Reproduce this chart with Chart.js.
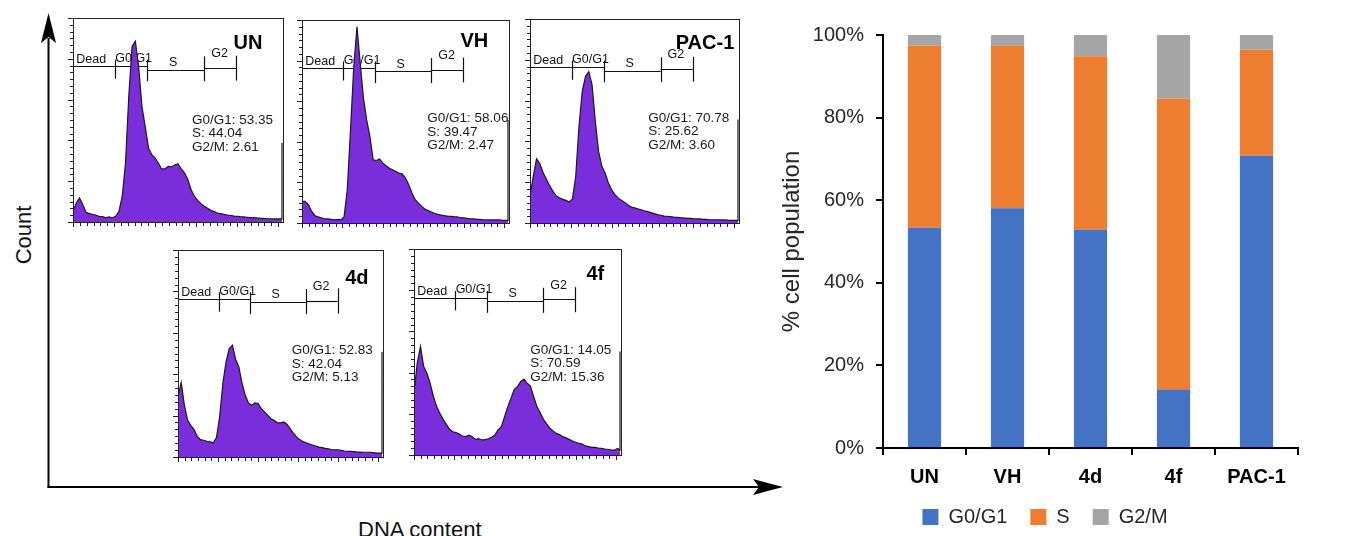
<!DOCTYPE html>
<html>
<head>
<meta charset="utf-8">
<title>Cell cycle distribution</title>
<script src="https://cdn.jsdelivr.net/npm/chart.js@4.4.1/dist/chart.umd.min.js"></script>
<style>
  html, body { margin: 0; padding: 0; background: #fff; }
  body { width: 1353px; height: 536px; position: relative; overflow: hidden; font-family: "Liberation Sans", Arial, sans-serif; }
  canvas { position: absolute; }
  .axis-label { position: absolute; color: #111; white-space: nowrap; }
  #countLabel { left: 23.5px; top: 235px; font-size: 22px; transform: translate(-50%, -50%) rotate(-90deg); }
  #dnaLabel { left: 358px; top: 519px; font-size: 22px; line-height: 22px; }
  #arrows { position: absolute; left: 0; top: 0; }
</style>
</head>
<body>
<svg id="arrows" width="800" height="536">
  <line x1="48.5" y1="488" x2="48.5" y2="38" stroke="#000" stroke-width="2"/>
  <polygon points="48.5,13 56,43 48.5,37 41,43" fill="#000"/>
  <line x1="47.5" y1="487" x2="762" y2="487" stroke="#000" stroke-width="2"/>
  <polygon points="783,487 753,479 759,487 753,495" fill="#000"/>
</svg>
<div id="countLabel" class="axis-label">Count</div>
<div id="dnaLabel" class="axis-label">DNA content</div>

<canvas id="hUN"></canvas>
<canvas id="hVH"></canvas>
<canvas id="hPAC"></canvas>
<canvas id="h4d"></canvas>
<canvas id="h4f"></canvas>
<canvas id="barChart" width="583" height="536" style="left:770px;top:0"></canvas>

<script>
/* ---------- colours ---------- */
const PURPLE = '#7a2ddb';
const BLUE = '#4472c4';
const ORANGE = '#ed7d31';
const GREY = '#a5a5a5';

Chart.defaults.font.family = "'Liberation Sans', Arial, sans-serif";

/* ---------- stacked bar data (% of cells) ---------- */
const groups = ['UN', 'VH', '4d', '4f', 'PAC-1'];
const phaseNames = ['G0/G1', 'S', 'G2/M'];
const g0g1 = [53.35, 58.06, 52.83, 14.05, 70.78];
const sPhase = [44.04, 39.47, 42.04, 70.59, 25.62];
const g2m = [2.61, 2.47, 5.13, 15.36, 3.60];

/* ---------- histogram data (channel vs count) ---------- */
const chan = [
  0, 16, 32, 48, 64, 80, 96, 112,
  128, 144, 160, 176, 192, 208, 224, 240,
  256, 272, 288, 304, 320, 336, 352, 368,
  384, 400, 416, 432, 448, 464, 480, 496,
  512, 528, 544, 560, 576, 592, 608, 624,
  640, 656, 672, 688, 704, 720, 736, 752,
  768, 784, 800, 816, 832, 848, 864, 880,
  896, 912, 928, 944, 960, 976, 992, 1008,
  1017, 1019
];
const countUN = [
  5.2, 9.3, 11.8, 8.5, 4.7, 4.1, 3.8, 3.3,
  2.8, 2.6, 2.0, 2.5, 2.1, 2.8, 5.2, 12.6,
  28.9, 61.6, 86.1, 88.6, 76.3, 56.7, 46.9, 36.3,
  33.0, 31.4, 28.9, 26.0, 26.0, 27.3, 27.0, 27.9,
  28.6, 26.0, 24.0, 20.8, 15.8, 12.6, 10.6, 9.0,
  7.7, 6.7, 5.7, 5.1, 4.4, 4.1, 3.8, 3.4,
  3.3, 2.9, 2.8, 2.6, 2.5, 2.3, 2.1, 2.1,
  2.0, 1.8, 1.8, 1.6, 1.6, 1.5, 1.6, 1.5,
  1.5, 38.7
];
const countVH = [
  10.7, 10.7, 9.0, 5.7, 3.6, 3.0, 2.5, 2.1,
  2.0, 1.8, 1.6, 1.8, 1.5, 3.0, 16.4, 45.9,
  77.0, 96.7, 78.7, 61.5, 50.8, 42.6, 31.1, 30.8,
  31.5, 29.5, 28.2, 27.0, 26.2, 25.4, 24.6, 24.1,
  22.1, 18.9, 14.8, 11.5, 9.8, 8.2, 6.9, 6.1,
  5.4, 4.8, 4.3, 3.9, 3.6, 3.4, 3.3, 3.1,
  3.0, 2.6, 2.5, 2.3, 2.1, 2.0, 1.8, 1.8,
  1.6, 1.6, 1.5, 1.5, 1.6, 1.5, 1.3, 1.3,
  1.3, 50.8
];
const countPAC = [
  13.1, 22.9, 31.5, 29.1, 24.8, 21.6, 18.3, 15.7,
  13.4, 12.4, 11.6, 11.1, 10.3, 11.8, 22.9, 47.4,
  64.5, 71.9, 74.2, 67.8, 49.8, 35.1, 27.8, 24.5,
  19.6, 16.3, 13.9, 12.3, 11.1, 10.1, 8.8, 7.8,
  7.4, 6.9, 6.5, 6.0, 5.6, 5.1, 4.6, 4.1,
  3.8, 3.4, 3.3, 3.1, 2.9, 2.8, 2.6, 2.5,
  2.3, 2.3, 2.1, 2.0, 2.0, 1.8, 1.8, 1.6,
  1.6, 1.6, 1.5, 1.5, 1.5, 1.3, 1.3, 1.3,
  1.3, 50.7
];
const count4d = [
  29.0, 36.0, 25.0, 17.7, 15.3, 13.2, 10.0, 8.4,
  8.1, 7.6, 7.3, 6.9, 9.4, 19.4, 35.5, 46.0,
  52.4, 54.0, 47.1, 43.5, 35.5, 29.8, 26.1, 25.0,
  26.1, 25.8, 23.4, 21.8, 20.2, 18.5, 17.7, 16.5,
  16.5, 16.9, 15.8, 13.7, 11.6, 9.7, 8.4, 7.4,
  6.8, 6.3, 5.8, 5.3, 4.8, 4.5, 4.2, 4.0,
  3.5, 3.5, 3.5, 3.2, 2.9, 2.7, 2.7, 2.6,
  2.4, 2.4, 2.3, 2.3, 2.3, 2.1, 1.9, 1.9,
  1.9, 50.8
];
const count4f = [
  30.0, 44.6, 52.7, 42.9, 39.7, 34.8, 28.4, 23.5,
  20.3, 17.3, 14.9, 12.5, 11.3, 10.9, 10.2, 9.2,
  8.9, 9.6, 8.9, 7.6, 7.9, 7.3, 7.5, 7.9,
  8.6, 9.7, 12.2, 13.8, 18.6, 23.5, 27.6, 31.9,
  33.2, 35.7, 36.8, 34.8, 33.5, 28.4, 23.5, 20.6,
  17.3, 15.1, 13.0, 11.7, 10.5, 9.9, 8.9, 8.3,
  7.6, 6.8, 6.2, 5.7, 5.3, 4.4, 4.1, 3.7,
  3.7, 3.4, 3.2, 2.9, 2.8, 2.4, 2.4, 3.2,
  2.4, 50.2
];

/* ---------- gate markers (channel units) ---------- */
const gateNames = ['Dead', 'G0/G1', 'S', 'G2'];
const gateEdges = [0, 204, 362, 640, 797];
const gateLevel = [76.3, 76.3, 74.7, 75.5];
const gateBarTop = [79.6, 79.6, 81.2, 81.5];
const gateBarBottom = [70.2, 69.0, 69.0, 69.3];
const gateLabelX = [16, 206, 488, 715];
const gateLabelY = [77.8, 78.4, 76.6, 80.7];
const gateLabelAlign = ['left', 'left', 'center', 'center'];

/* ---------- panel placement ---------- */
const PAD = 14;
const panels = [
  { id: 'hUN',  title: 'UN',    counts: countUN,  idx: 0, box: [73, 18, 210, 204],  statsAt: [580, 50.0], titleAt: [783, 87.7] },
  { id: 'hVH',  title: 'VH',    counts: countVH,  idx: 1, box: [302, 20, 207, 203], statsAt: [620, 51.6], titleAt: [784, 89.3] },
  { id: 'hPAC', title: 'PAC-1', counts: countPAC, idx: 4, box: [530, 19, 209, 204], statsAt: [579, 51.5], titleAt: [714, 88.2] },
  { id: 'h4d',  title: '4d',    counts: count4d,  idx: 2, box: [178, 250, 205, 207], statsAt: [568, 51.6], titleAt: [835, 86.3] },
  { id: 'h4f',  title: '4f',    counts: count4f,  idx: 3, box: [414, 249, 207, 206], statsAt: [575, 51.0], titleAt: [853, 87.5] }
];

function makeDecor(p) {
  const stats = [
    'G0/G1: ' + g0g1[p.idx].toFixed(2),
    'S: ' + sPhase[p.idx].toFixed(2),
    'G2/M: ' + g2m[p.idx].toFixed(2)
  ];
  return {
    id: 'flowDecor',
    beforeDatasetsDraw(chart) {
      const { ctx } = chart;
      const xs = chart.scales.x, ys = chart.scales.y;
      ctx.save();
      ctx.strokeStyle = '#111';
      ctx.fillStyle = '#111';
      ctx.lineWidth = 1.2;
      // gate lines
      for (let i = 0; i < gateNames.length; i++) {
        const x0 = xs.getPixelForValue(gateEdges[i]);
        const x1 = xs.getPixelForValue(gateEdges[i + 1]);
        const yy = Math.round(ys.getPixelForValue(gateLevel[i])) + 0.5;
        ctx.beginPath(); ctx.moveTo(x0, yy); ctx.lineTo(x1, yy); ctx.stroke();
      }
      for (let i = 1; i < gateEdges.length; i++) {
        const xx = Math.round(xs.getPixelForValue(gateEdges[i])) + 0.5;
        ctx.beginPath();
        ctx.moveTo(xx, ys.getPixelForValue(gateBarTop[i - 1]));
        ctx.lineTo(xx, ys.getPixelForValue(gateBarBottom[i - 1]));
        ctx.stroke();
      }
      ctx.font = "12.5px 'Liberation Sans', Arial, sans-serif";
      ctx.textBaseline = 'alphabetic';
      for (let i = 0; i < gateNames.length; i++) {
        ctx.textAlign = gateLabelAlign[i];
        ctx.fillText(gateNames[i], xs.getPixelForValue(gateLabelX[i]), ys.getPixelForValue(gateLabelY[i]));
      }
      ctx.restore();
    },
    afterDatasetsDraw(chart) {
      const { ctx } = chart;
      const xs = chart.scales.x, ys = chart.scales.y;
      ctx.save();
      ctx.fillStyle = '#1a1a1a';
      ctx.textAlign = 'left';
      ctx.textBaseline = 'middle';
      ctx.font = "13.5px 'Liberation Sans', Arial, sans-serif";
      const sx = xs.getPixelForValue(p.statsAt[0]);
      const sy = ys.getPixelForValue(p.statsAt[1]);
      stats.forEach((s, i) => ctx.fillText(s, sx, sy + i * 13.7));
      ctx.fillStyle = '#000';
      ctx.font = "bold 20px 'Liberation Sans', Arial, sans-serif";
      ctx.fillText(p.title, xs.getPixelForValue(p.titleAt[0]), ys.getPixelForValue(p.titleAt[1]));
      ctx.restore();
    },
    afterDraw(chart) {
      const { ctx, chartArea: a } = chart;
      const xs = chart.scales.x, ys = chart.scales.y;
      ctx.save();
      ctx.strokeStyle = '#222';
      ctx.lineWidth = 1;
      ctx.strokeRect(Math.round(a.left) + 0.5, Math.round(a.top) + 0.5,
                     Math.round(a.right - a.left), Math.round(a.bottom - a.top));
      ctx.beginPath();
      // bottom ticks, major every 200 channels
      for (let k = 0; k * 200 / 6 <= 1024; k++) {
        const xx = Math.round(xs.getPixelForValue(k * 200 / 6)) + 0.5;
        const len = k % 6 === 0 ? 5 : 4;
        ctx.moveTo(xx, a.bottom); ctx.lineTo(xx, a.bottom + len);
      }
      // left ticks, major every 20 counts
      for (let k = 0; k * 20 / 6 <= 100.01; k++) {
        const yy = Math.round(ys.getPixelForValue(k * 20 / 6)) + 0.5;
        const len = k % 6 === 0 ? 5 : 3;
        ctx.moveTo(a.left, yy); ctx.lineTo(a.left - len, yy);
      }
      ctx.stroke();
      ctx.restore();
    }
  };
}

panels.forEach(p => {
  const cv = document.getElementById(p.id);
  const [bx, by, bw, bh] = p.box;
  cv.width = bw + 2 * PAD;
  cv.height = bh + 2 * PAD;
  cv.style.left = (bx - PAD) + 'px';
  cv.style.top = (by - PAD) + 'px';
  new Chart(cv, {
    type: 'line',
    data: {
      datasets: [{
        data: chan.map((c, i) => ({ x: c, y: p.counts[i] })),
        borderColor: '#1a1a1a',
        borderWidth: 1.2,
        backgroundColor: PURPLE,
        fill: 'origin',
        pointRadius: 0,
        tension: 0
      }]
    },
    options: {
      responsive: false,
      animation: false,
      events: [],
      layout: { padding: PAD },
      scales: {
        x: { type: 'linear', min: 0, max: 1024, display: false },
        y: { min: 0, max: 100, display: false }
      },
      plugins: { legend: { display: false }, tooltip: { enabled: false } }
    },
    plugins: [makeDecor(p)]
  });
});

/* ---------- stacked bar chart ---------- */
const legendNudge = {
  id: 'legendNudge',
  beforeLayout(chart) {
    const lg = chart.legend;
    if (lg && !lg._nudged) {
      const fit = lg.fit;
      lg.fit = function () { fit.call(this); this.height = 52; };
      lg._nudged = true;
    }
  },
  afterLayout(chart) {
    chart.legend.left += 11;
    chart.legend.right += 11;
  }
};

new Chart(document.getElementById('barChart'), {
  type: 'bar',
  data: {
    labels: groups,
    datasets: [
      { label: phaseNames[0], data: g0g1, backgroundColor: BLUE },
      { label: phaseNames[1], data: sPhase, backgroundColor: ORANGE },
      { label: phaseNames[2], data: g2m, backgroundColor: GREY }
    ]
  },
  options: {
    responsive: false,
    animation: false,
    events: [],
    layout: { padding: { left: 0, right: 55, top: 35, bottom: 0 } },
    datasets: { bar: { categoryPercentage: 1, barPercentage: 0.4, borderWidth: 0 } },
    scales: {
      x: {
        stacked: true,
        grid: { drawOnChartArea: false, drawTicks: true, tickLength: 7, color: '#000', lineWidth: 2 },
        border: { display: true, color: '#000', width: 2 },
        ticks: { color: '#000', font: { size: 20, weight: 'bold' }, padding: 10 },
        afterFit: s => { s.height = 36; }
      },
      y: {
        stacked: true,
        min: 0,
        max: 100,
        grid: { drawOnChartArea: false, drawTicks: true, tickLength: 7, color: '#000', lineWidth: 2 },
        border: { display: true, color: '#000', width: 2 },
        ticks: { stepSize: 20, color: '#262626', font: { size: 20 }, padding: 12, callback: v => v + '%' },
        title: { display: true, text: '% cell population', color: '#262626', font: { size: 24 }, padding: { top: 8, bottom: 0 } },
        afterFit: s => { s.width = 113; }
      }
    },
    plugins: {
      legend: {
        position: 'bottom',
        labels: { boxWidth: 16, boxHeight: 16, color: '#262626', font: { size: 20 }, padding: 23 }
      },
      tooltip: { enabled: false }
    }
  },
  plugins: [legendNudge]
});
</script>
</body>
</html>
